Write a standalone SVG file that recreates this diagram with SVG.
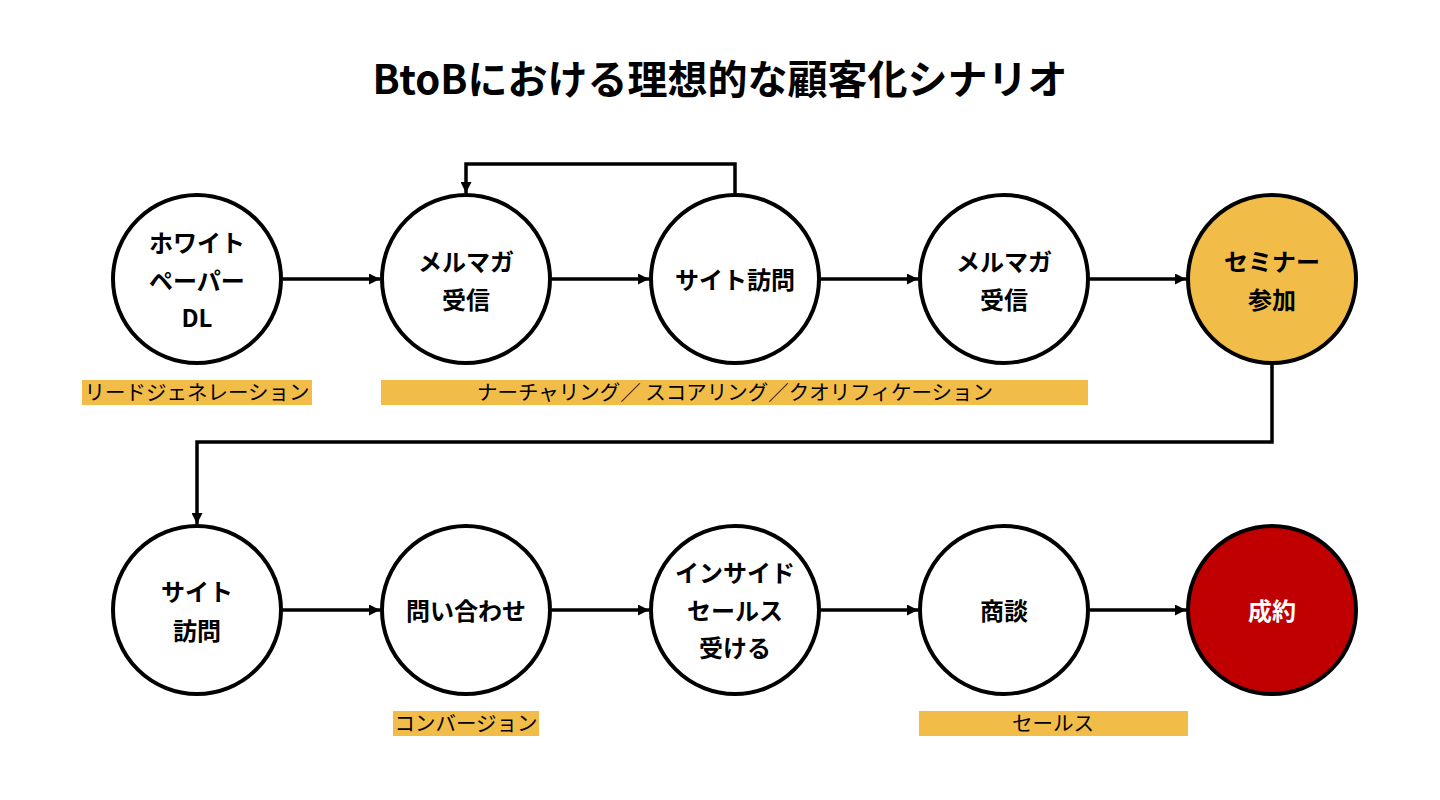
<svg xmlns="http://www.w3.org/2000/svg" width="1440" height="800" viewBox="0 0 1440 800">
<style>
.n{fill:#fff;stroke:#000;stroke-width:4}
.y{fill:#f1bc48}
.r{fill:#c00000}
.t{font-family:"Noto Sans CJK JP","Noto Sans",sans-serif;font-weight:700;font-size:24px;text-anchor:middle;dominant-baseline:central;fill:#000}
.w{fill:#fff}
.lb{fill:#f1bc48}
.lt{font-family:"Noto Sans CJK JP","Noto Sans",sans-serif;font-size:20.5px;text-anchor:middle;dominant-baseline:central;fill:#000}
.c{fill:none;stroke:#000;stroke-width:3.5}
</style>
<defs>
<marker id="a" viewBox="0 0 10 10" refX="10" refY="5" markerWidth="11" markerHeight="11" markerUnits="userSpaceOnUse" orient="auto">
<path d="M0,0L10,5L0,10z" fill="#000"/>
</marker>
</defs>
<rect width="1440" height="800" fill="#fff"/>
<text x="720" y="77" font-family="'Noto Sans CJK JP','Noto Sans',sans-serif" font-weight="700" font-size="40" text-anchor="middle" dominant-baseline="central">BtoBにおける理想的な顧客化シナリオ</text>
<g id="connectors">
<path class="c" d="M283,279H380" marker-end="url(#a)"/>
<path class="c" d="M552,279H649" marker-end="url(#a)"/>
<path class="c" d="M821,279H918" marker-end="url(#a)"/>
<path class="c" d="M1090,279H1186" marker-end="url(#a)"/>
<path class="c" d="M735,193V164H466V193" marker-end="url(#a)"/>
<path class="c" d="M1272,365V442H197V524" marker-end="url(#a)"/>
<path class="c" d="M283,610H380" marker-end="url(#a)"/>
<path class="c" d="M552,610H649" marker-end="url(#a)"/>
<path class="c" d="M821,610H918" marker-end="url(#a)"/>
<path class="c" d="M1090,610H1186" marker-end="url(#a)"/>
</g>
<g id="n1"><circle class="n" cx="197" cy="279" r="84"/><text class="t" x="197" y="241">ホワイト</text><text class="t" x="197" y="279">ペーパー</text><text class="t" x="197" y="316">DL</text></g>
<g id="n2"><circle class="n" cx="466" cy="279" r="84"/><text class="t" x="466" y="260">メルマガ</text><text class="t" x="466" y="298">受信</text></g>
<g id="n3"><circle class="n" cx="735" cy="279" r="84"/><text class="t" x="735" y="278">サイト訪問</text></g>
<g id="n4"><circle class="n" cx="1004" cy="279" r="84"/><text class="t" x="1004" y="260">メルマガ</text><text class="t" x="1004" y="298">受信</text></g>
<g id="n5"><circle class="n y" cx="1272" cy="279" r="84"/><text class="t" x="1272" y="260">セミナー</text><text class="t" x="1272" y="298">参加</text></g>
<g id="n6"><circle class="n" cx="197" cy="610" r="84"/><text class="t" x="197" y="590">サイト</text><text class="t" x="197" y="629">訪問</text></g>
<g id="n7"><circle class="n" cx="466" cy="610" r="84"/><text class="t" x="466" y="609">問い合わせ</text></g>
<g id="n8"><circle class="n" cx="735" cy="610" r="84"/><text class="t" x="735" y="571">インサイド</text><text class="t" x="735" y="609">セールス</text><text class="t" x="735" y="646">受ける</text></g>
<g id="n9"><circle class="n" cx="1004" cy="610" r="84"/><text class="t" x="1004" y="609">商談</text></g>
<g id="n10"><circle class="n r" cx="1272" cy="610" r="84"/><text class="t w" x="1272" y="609">成約</text></g>
<g id="labels">
<rect class="lb" x="82" y="380" width="230" height="25"/><text class="lt" x="197" y="391">リードジェネレーション</text>
<rect class="lb" x="381" y="380" width="707" height="25"/><text class="lt" x="735" y="391">ナーチャリング／ スコアリング／クオリフィケーション</text>
<rect class="lb" x="393" y="711" width="146" height="25"/><text class="lt" x="466" y="722">コンバージョン</text>
<rect class="lb" x="919" y="711" width="269" height="25"/><text class="lt" x="1053" y="722">セールス</text>
</g>
</svg>
